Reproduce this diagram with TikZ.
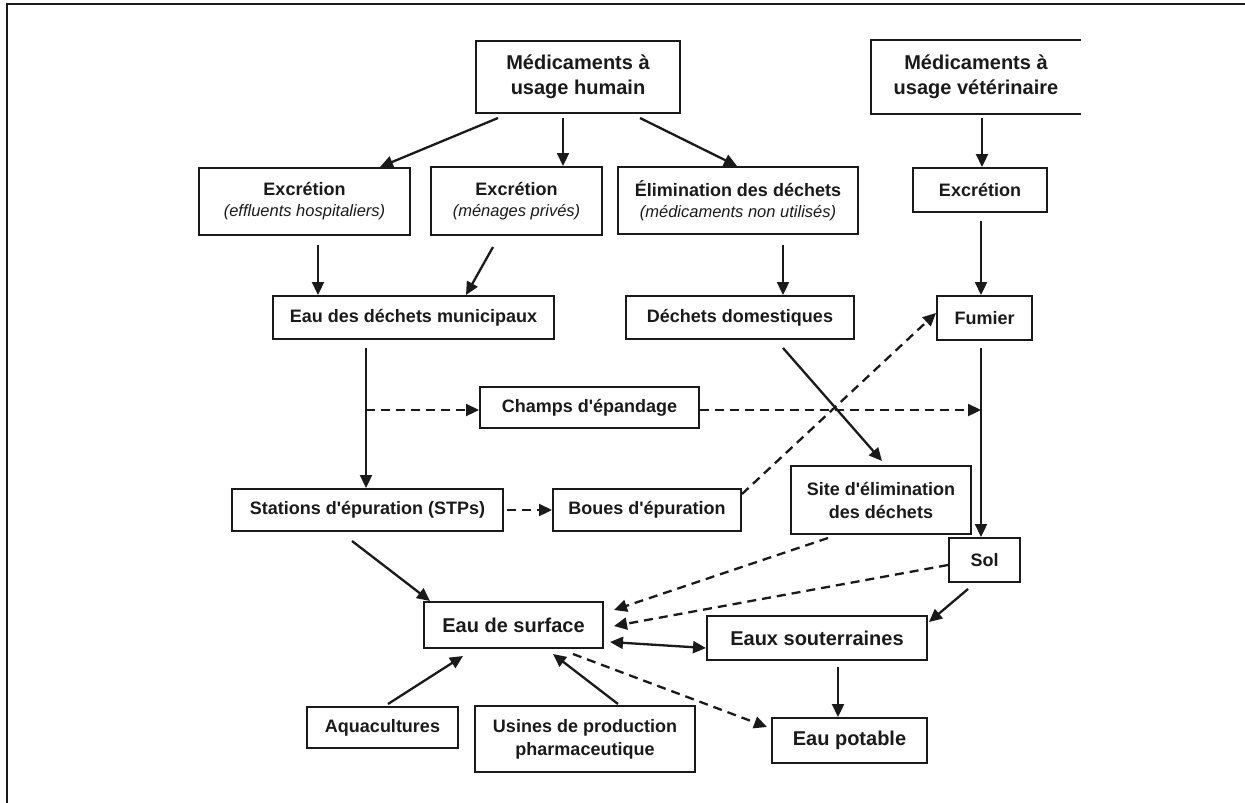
\documentclass[tikz,border=0pt]{standalone}
\usepackage{fontspec}
\setmainfont{Liberation Sans}
\usetikzlibrary{arrows.meta}
\definecolor{ink}{HTML}{1A1A1A}
\tikzset{
  box/.style={draw=ink, line width=2pt, inner sep=0pt, align=center, text=ink,
    font=\fontsize{18}{23}\selectfont\bfseries},
  bigbox/.style={box, font=\fontsize{20}{25}\selectfont\bfseries},
  arr/.style={draw=ink, line width=2.3pt, -{Triangle[length=13pt,width=12pt]}},
  darr/.style={arr, dash pattern=on 9pt off 6pt},
  biarr/.style={draw=ink, line width=2.3pt, {Triangle[length=13pt,width=12pt]}-{Triangle[length=13pt,width=12pt]}},
}
\newcommand{\sub}[1]{\\[-2pt]{\fontsize{16.5}{20}\selectfont\mdseries\itshape #1}}
\newcommand{\ap}{\textquotesingle}
\begin{document}
\begin{tikzpicture}[x=1pt,y=-1pt]
\useasboundingbox (0,0) rectangle (1245,803);
\draw[line width=2.2pt, ink] (7,803) -- (7,4) -- (1245,4);

% nodes
\node[bigbox, minimum width=204pt, minimum height=72pt] (humain) at (578,77) {Médicaments à\\usage humain};
\node[bigbox, draw=none, minimum width=208pt, minimum height=72pt] (vet) at (976,77) {Médicaments à\\usage vétérinaire};
\draw[ink, line width=2pt] (vet.north east) -- (vet.north west) -- (vet.south west) -- (vet.south east);
\node[box, minimum width=211pt, minimum height=67pt] (exh) at (304.5,201.5) {Excrétion\sub{(effluents hospitaliers)}};
\node[box, minimum width=171pt, minimum height=68pt] (exm) at (516.5,201) {Excrétion\sub{(ménages privés)}};
\node[box, minimum width=240pt, minimum height=67pt] (elim) at (738,200.5) {Élimination des déchets\sub{(médicaments non utilisés)}};
\node[box, minimum width=134pt, minimum height=44pt] (exv) at (980,190) {Excrétion};
\node[box, minimum width=281pt, minimum height=43pt] (mun) at (413.5,317.5) {Eau des déchets municipaux};
\node[box, minimum width=228pt, minimum height=43pt] (dom) at (740,317.5) {Déchets domestiques};
\node[box, minimum width=95pt, minimum height=44pt] (fumier) at (984.5,318) {Fumier};
\node[box, minimum width=219pt, minimum height=41pt] (champs) at (589.5,407.5) {Champs d\ap épandage};
\node[box, minimum width=271pt, minimum height=42pt] (stp) at (367.5,510) {Stations d\ap épuration (STPs)};
\node[box, minimum width=188pt, minimum height=42pt] (boues) at (647,510) {Boues d\ap épuration};
\node[box, minimum width=180pt, minimum height=68pt] (site) at (881,500) {Site d\ap élimination\\des déchets};
\node[box, minimum width=71pt, minimum height=44pt] (sol) at (984.5,560) {Sol};
\node[bigbox, minimum width=179pt, minimum height=46pt] (surf) at (513.5,625) {Eau de surface};
\node[bigbox, minimum width=220pt, minimum height=44pt] (souter) at (817,638) {Eaux souterraines};
\node[bigbox, minimum width=155pt, minimum height=45pt] (potable) at (849.5,740.5) {Eau potable};
\node[box, minimum width=151pt, minimum height=41pt] (aqua) at (382.5,727.5) {Aquacultures};
\node[box, minimum width=220pt, minimum height=66pt] (usines) at (585,739) {Usines de production\\pharmaceutique};

\coordinate (b1) at (366,410);
\coordinate (b2) at (981,410);

% connectors
\draw[arr] ([xshift=-80pt,yshift=-4pt]humain.south) -- ([xshift=75.5pt]exh.north);
\draw[arr] ([xshift=-15pt,yshift=-4pt]humain.south) -- ([xshift=46.5pt]exm.north);
\draw[arr] ([xshift=62pt,yshift=-4pt]humain.south) -- ([xshift=-1pt]elim.north);
\draw[arr] ([xshift=6pt,yshift=-4pt]vet.south) -- ([xshift=2pt]exv.north);
\draw[arr] ([xshift=13.5pt,yshift=-9pt]exh.south) -- ([xshift=-95.5pt]mun.north);
\draw[arr] ([xshift=-23.5pt,yshift=-11pt]exm.south) -- ([xshift=52.5pt]mun.north);
\draw[arr] ([xshift=45pt,yshift=-10pt]elim.south) -- ([xshift=43pt]dom.north);
\draw[arr] ([xshift=1pt,yshift=-8pt]exv.south) -- ([xshift=-3.5pt]fumier.north);
\draw[arr] ([xshift=-47.5pt,yshift=-8pt]mun.south) -- ([xshift=-1.5pt]stp.north);
\draw[darr] (b1) -- ([yshift=-2.5pt]champs.west);
\draw[darr] ([yshift=-2.5pt]champs.east) -- (b2);
\draw[arr] ([xshift=-3.5pt,yshift=-7pt]fumier.south) -- ([xshift=-3.5pt]sol.north);
\draw[arr] ([xshift=43pt,yshift=-8pt]dom.south) -- ([xshift=1pt,yshift=4pt]site.north);
\draw[darr] ([yshift=-6pt]boues.north east) -- ([yshift=5pt]fumier.west);
\draw[darr] ([xshift=3pt]stp.east) -- (boues.west);
\draw[arr] ([xshift=-15.5pt,yshift=-9pt]stp.south) -- ([xshift=-83.5pt]surf.north);
\draw[darr] ([xshift=-53pt,yshift=-3pt]site.south) -- ([xshift=10pt,yshift=15pt]surf.east);
\draw[darr] ([yshift=-5pt]sol.west) -- ([xshift=10pt,yshift=-1pt]surf.east);
\draw[biarr] ([xshift=6pt,yshift=-17pt]surf.east) -- ([yshift=-10pt]souter.west);
\draw[arr] ([xshift=-16.5pt,yshift=-6pt]sol.south) -- ([xshift=1pt,yshift=-7pt]souter.north east);
\draw[arr] ([xshift=21pt,yshift=-6pt]souter.south) -- ([xshift=-11.5pt]potable.north);
\draw[darr] ([xshift=59.5pt,yshift=-5pt]surf.south) -- ([xshift=-4pt,yshift=13.5pt]potable.west);
\draw[arr] ([xshift=5.5pt,yshift=2pt]aqua.north) -- ([xshift=-50.5pt,yshift=-7pt]surf.south);
\draw[arr] ([xshift=33pt,yshift=1pt]usines.north) -- ([xshift=39.5pt,yshift=-5pt]surf.south);
\end{tikzpicture}
\end{document}
